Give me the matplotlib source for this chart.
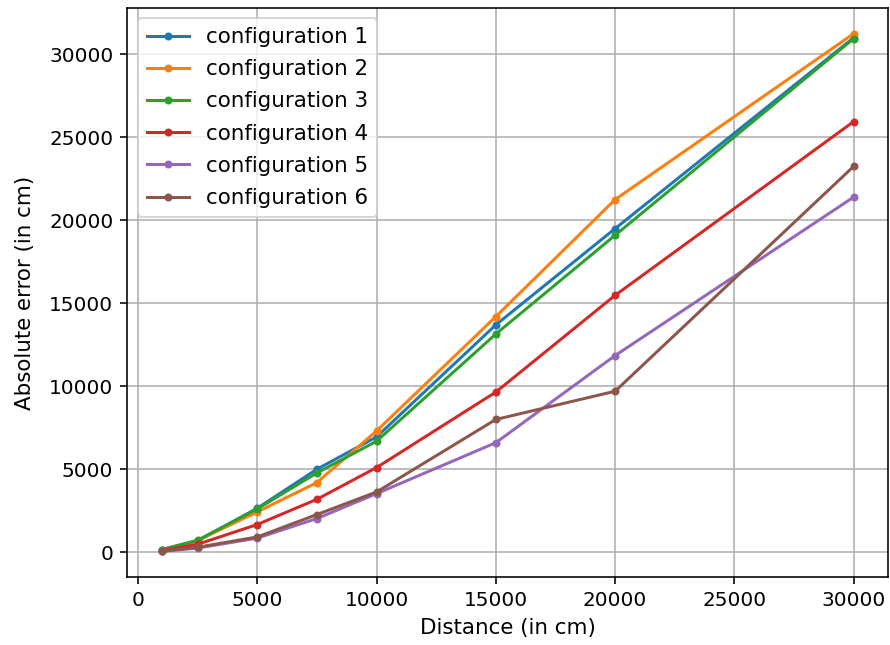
import matplotlib
matplotlib.use("Agg")
import matplotlib.pyplot as plt

# distances (cm) and absolute error per configuration
distances = [1000, 2500, 5000, 7500, 10000, 15000, 20000, 30000]
config_1 = [150, 690, 2650, 5000, 6950, 13700, 19500, 31000]
config_2 = [120, 700, 2430, 4200, 7310, 14200, 21250, 31250]
config_3 = [160, 720, 2610, 4780, 6690, 13150, 19100, 30950]
config_4 = [100, 480, 1670, 3190, 5100, 9650, 15480, 25950]
config_5 = [50, 250, 850, 2030, 3530, 6600, 11850, 21400]
config_6 = [60, 300, 920, 2270, 3630, 8000, 9700, 23250]

series = [config_1, config_2, config_3, config_4, config_5, config_6]

dpi = 144
fig = plt.figure(figsize=(890 / dpi, 645 / dpi), dpi=dpi)
ax = fig.add_subplot(111)
fig.subplots_adjust(left=0.143, right=0.998, top=0.988, bottom=0.105)

for i, vals in enumerate(series):
    ax.plot(distances, vals, marker='.', label='configuration %d' % (i + 1))

ax.set_xlabel('Distance (in cm)', fontsize=10.7)
ax.set_ylabel('Absolute error (in cm)', fontsize=10.7, labelpad=7)
ax.grid(True)
ax.legend(loc='upper left', fontsize=10.7, labelspacing=0.57)

fig.savefig('out.png', dpi=dpi)
